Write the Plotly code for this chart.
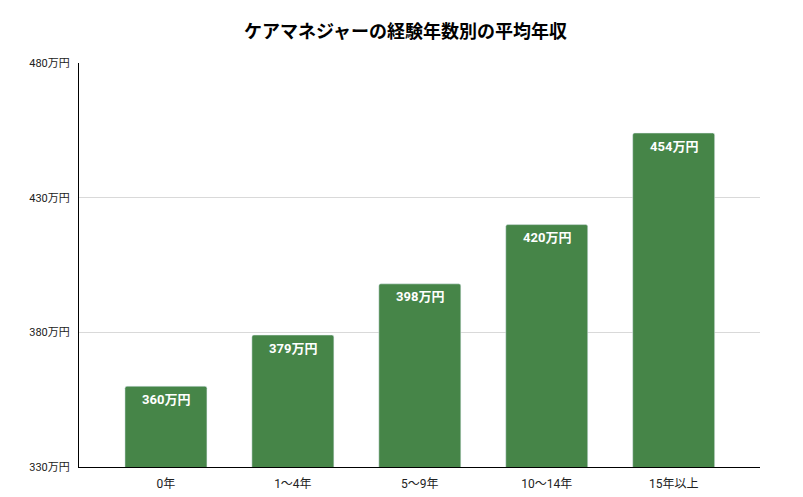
import plotly.graph_objects as go

# 経験年数別の平均年収（万円）
categories = ["0年", "1〜4年", "5〜9年", "10〜14年", "15年以上"]
salary = [360, 379, 398, 420, 454]
y_ticks = [330, 380, 430, 480]
y_tick_labels = [f"{v}万円" for v in y_ticks]

FONT = "Roboto, Noto Sans CJK JP, sans-serif"

fig = go.Figure()
fig.add_trace(go.Bar(
    x=categories,
    y=salary,
    marker=dict(color="#468548", cornerradius=2),
    width=0.646,
    hoverinfo="skip",
))

# 値ラベル（棒の上端の内側）
for cat, val in zip(categories, salary):
    fig.add_annotation(
        x=cat, y=val,
        text=f"<b>{val}万円</b>",
        showarrow=False,
        yanchor="middle",
        yshift=-13,
        font=dict(family=FONT, size=13, color="white"),
    )

# ページ本体の余白(8px)を差し引いたサイズ
fig.update_layout(
    width=795,
    height=489,
    margin=dict(l=71, r=43, t=55, b=30),
    paper_bgcolor="white",
    plot_bgcolor="white",
    showlegend=False,
    title=dict(
        text="<b>ケアマネジャーの経験年数別の平均年収</b>",
        x=0.5,
        xanchor="center",
        y=1 - 24 / 489,
        yanchor="middle",
        font=dict(family=FONT, size=18, color="#000000"),
    ),
    font=dict(family=FONT, size=11, color="#333333"),
)

fig.update_xaxes(
    range=[-0.685, 4.68],
    automargin=False,
    showline=True,
    linecolor="#000000",
    linewidth=1,
    showgrid=False,
    ticks="",
    ticklabelstandoff=6,
    tickfont=dict(size=12, color="#222222"),
)

fig.update_yaxes(
    range=[330, 480],
    automargin=False,
    tickvals=y_ticks,
    ticktext=y_tick_labels,
    showline=True,
    linecolor="#000000",
    linewidth=1,
    showgrid=True,
    gridcolor="#d9d9d9",
    zeroline=False,
    ticks="",
    ticklabelstandoff=6,
    tickfont=dict(size=11, color="#222222"),
)

fig.write_html("out.html")
